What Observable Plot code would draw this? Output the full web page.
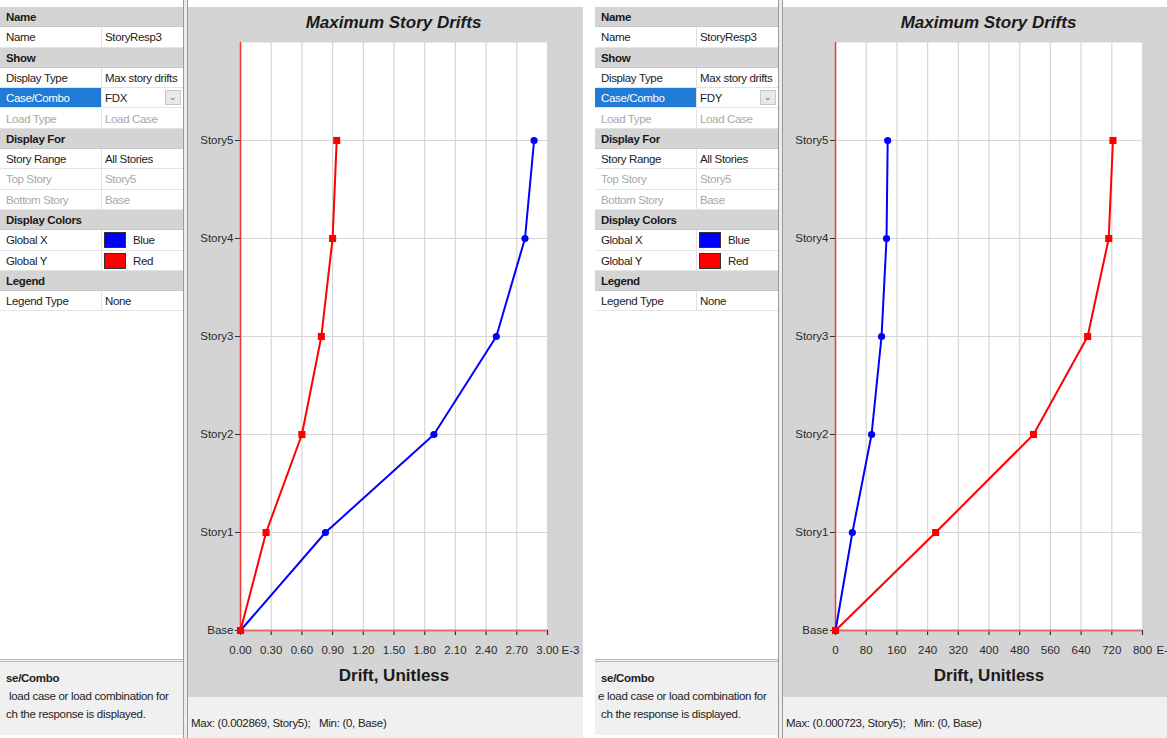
<!DOCTYPE html>
<html>
<head>
<meta charset="utf-8">
<script src="https://cdn.jsdelivr.net/npm/d3@7"></script>
<script src="https://cdn.jsdelivr.net/npm/@observablehq/plot@0.6"></script>
<style>
  html, body { margin: 0; padding: 0; background: #fff; }
  #root { position: relative; width: 1167px; height: 738px; overflow: hidden; background: #fff;
          font-family: "Liberation Sans", Arial, sans-serif; color: #222; }
  .shot { position: absolute; top: 0; width: 585px; height: 738px; }
  .tbl { position: absolute; left: 0; top: 7px; width: 183px; height: 651px; background: #fff; }
  .row { position: absolute; left: 0; width: 183px; height: 20.3px; box-sizing: border-box;
         border-bottom: 1px solid #e4e4e4; font-size: 11.5px; line-height: 20px; letter-spacing: -0.35px; }
  .row.h { background: #d4d4d4; font-weight: bold; color: #1a1a1a; border-bottom: 1px solid #c8c8c8; }
  .row .c1 { position: absolute; left: 6px; top: 0; }
  .row .c2 { position: absolute; left: 105px; top: 0; }
  .row .sep { position: absolute; left: 101px; top: 0; width: 1px; height: 100%; background: #e0e0e0; }
  .row.dim { color: #a8a8a8; }
  .row .sel { position: absolute; left: 0; top: 0; width: 101px; height: 100%; background: #1f7bd6; }
  .row .sel span { position: absolute; left: 6px; color: #fff; }
  .dd { position: absolute; left: 165px; top: 2px; width: 16px; height: 15px; background: #e8e8e8;
        border: 1px solid #c8c8c8; box-sizing: border-box; font-size: 9px; line-height: 13px; text-align: center; color: #666; }
  .sw { position: absolute; left: 104px; top: 2px; width: 22px; height: 16px; box-sizing: border-box; border: 1px solid #333; }
  .divv { position: absolute; left: 183px; top: 0; width: 5px; height: 738px; box-sizing: border-box;
          border-left: 1px solid #9a9a9a; border-right: 1px solid #9a9a9a; background: #ececec; }
  .help { position: absolute; left: 0; top: 659px; width: 183px; height: 76px; background: #f0f0f0;
          border-top: 3px double #b8b8b8; box-sizing: border-box; font-size: 11.5px; letter-spacing: -0.3px; }
  .help div { position: absolute; white-space: nowrap; }
  .panel { position: absolute; left: 188px; top: 7px; width: 395px; height: 690px; background: #d4d4d4; }
  .title { position: absolute; left: 52px; width: 307px; top: 6px; text-align: center; font-size: 17px;
           font-weight: bold; font-style: italic; color: #1a1a1a; }
  .foot { position: absolute; left: 188px; top: 697px; width: 395px; height: 41px; background: #f0f0f0;
          font-size: 11.5px; letter-spacing: -0.3px; }
  .foot span { position: absolute; left: 3px; top: 20px; }
</style>
</head>
<body>
<div id="root"></div>
<script>
// ---------- data ----------
const stories = ["Base", "Story1", "Story2", "Story3", "Story4", "Story5"];
const storyIndex = [0, 1, 2, 3, 4, 5];

// Load case FDX, drift x 1e-3
const fdxGlobalX = [0, 0.83, 1.89, 2.50, 2.78, 2.869];
const fdxGlobalY = [0, 0.25, 0.60, 0.79, 0.90, 0.94];
const fdxTicks = [0, 0.3, 0.6, 0.9, 1.2, 1.5, 1.8, 2.1, 2.4, 2.7, 3.0];

// Load case FDY, drift x 1e-6
const fdyGlobalX = [0, 44, 94, 120, 133, 136];
const fdyGlobalY = [0, 261, 516, 657, 712, 723];
const fdyTicks = [0, 80, 160, 240, 320, 400, 480, 560, 640, 720, 800];

const shots = [
  {left: 0, caseName: "FDX", blue: fdxGlobalX, red: fdxGlobalY, ticks: fdxTicks, fmt: d3.format(".2f"),
   unit: "E-3", footer: "Max: (0.002869, Story5);   Min: (0, Base)"},
  {left: 595, caseName: "FDY", blue: fdyGlobalX, red: fdyGlobalY, ticks: fdyTicks, fmt: d3.format("d"),
   unit: "E-6", footer: "Max: (0.000723, Story5);   Min: (0, Base)"}
];

const xLabel = "Drift, Unitless";
const chartTitle = "Maximum Story Drifts";

// ---------- property table ----------
function propRows(caseName) {
  return [
    ["h", "Name"], ["r", "Name", "StoryResp3"], ["h", "Show"], ["r", "Display Type", "Max story drifts"],
    ["sel", "Case/Combo", caseName], ["dim", "Load Type", "Load Case"], ["h", "Display For"],
    ["r", "Story Range", "All Stories"], ["dim", "Top Story", "Story5"], ["dim", "Bottom Story", "Base"],
    ["h", "Display Colors"], ["color", "Global X", "Blue", "#0000ff"], ["color", "Global Y", "Red", "#ff0000"],
    ["h", "Legend"], ["r", "Legend Type", "None"]
  ];
}

function makeChart(s) {
  const blueData = s.blue.map((v, i) => ({x: v, y: storyIndex[i]}));
  const redData = s.red.map((v, i) => ({x: v, y: storyIndex[i]}));
  const xmax = s.ticks[s.ticks.length - 1];
  return Plot.plot({
    width: 395, height: 690,
    marginTop: 35, marginBottom: 67, marginLeft: 52, marginRight: 36,
    style: {background: "transparent", fontFamily: "'Liberation Sans', Arial, sans-serif", fontSize: "11px", color: "#2a2a2a", overflow: "visible"},
    x: {domain: [0, xmax]},
    y: {domain: [0, 6]},
    marks: [
      Plot.frame({fill: "white", stroke: "none"}),
      Plot.gridX({ticks: s.ticks, stroke: "#d6d6d6", strokeOpacity: 1, strokeWidth: 1.2}),
      Plot.gridY({ticks: storyIndex, stroke: "#d6d6d6", strokeOpacity: 1, strokeWidth: 1.2}),
      Plot.axisX({ticks: s.ticks, tickFormat: s.fmt, tickSize: 5, tickPadding: 10, label: null, stroke: "#333", strokeWidth: 1.2, fontSize: 11.5}),
      Plot.axisY({ticks: storyIndex, tickFormat: i => stories[i], tickSize: 5, tickPadding: 2, label: null, stroke: "#333", fontSize: 11.5}),
      Plot.ruleY([0], {stroke: "#e36a6a", strokeWidth: 2}),
      Plot.ruleX([0], {stroke: "#f03535", strokeWidth: 1.5}),
      Plot.line(blueData, {x: "x", y: "y", stroke: "#0000ff", strokeWidth: 2}),
      Plot.dot(blueData, {x: "x", y: "y", r: 3.6, fill: "#0000ff"}),
      Plot.line(redData, {x: "x", y: "y", stroke: "#ff0000", strokeWidth: 2}),
      Plot.dot(redData, {x: "x", y: "y", r: 4, symbol: "square", fill: "#ff0000"}),
      Plot.text([s.unit], {x: xmax, y: 0, dx: 14, dy: 15, textAnchor: "start", lineAnchor: "top", fill: "#2a2a2a", fontSize: 11.5}),
      Plot.text([xLabel], {frameAnchor: "bottom", dy: 50, fontSize: 17, fontWeight: "bold", fill: "#1a1a1a"})
    ]
  });
}

const root = document.getElementById("root");
for (const s of shots) {
  const shot = document.createElement("div");
  shot.className = "shot";
  shot.style.left = s.left + "px";

  const tbl = document.createElement("div");
  tbl.className = "tbl";
  propRows(s.caseName).forEach((r, i) => {
    const row = document.createElement("div");
    row.style.top = (i * 20.3) + "px";
    const kind = r[0];
    if (kind === "h") {
      row.className = "row h";
      row.innerHTML = `<span class="c1">${r[1]}</span>`;
    } else {
      row.className = "row" + (kind === "dim" ? " dim" : "");
      let html = `<span class="sep"></span>`;
      if (kind === "sel") html += `<span class="sel"><span>${r[1]}</span></span><span class="c2">${r[2]}</span><span class="dd">&#8964;</span>`;
      else if (kind === "color") html += `<span class="c1">${r[1]}</span><span class="sw" style="background:${r[3]}"></span><span class="c2" style="left:133px">${r[2]}</span>`;
      else html += `<span class="c1">${r[1]}</span><span class="c2">${r[2]}</span>`;
      row.innerHTML = html;
    }
    tbl.appendChild(row);
  });
  shot.appendChild(tbl);

  const help = document.createElement("div");
  help.className = "help";
  help.innerHTML = `<div style="left:6px;top:10px;font-weight:bold">se/Combo</div>
    <div style="left:${s.left ? 3 : 9}px;top:28px">${s.left ? "e " : ""}load case or load combination for</div>
    <div style="left:6px;top:46px">ch the response is displayed.</div>`;
  shot.appendChild(help);

  const dv = document.createElement("div");
  dv.className = "divv";
  shot.appendChild(dv);

  const panel = document.createElement("div");
  panel.className = "panel";
  panel.appendChild(makeChart(s));
  const t = document.createElement("div");
  t.className = "title";
  t.textContent = chartTitle;
  panel.appendChild(t);
  shot.appendChild(panel);

  const foot = document.createElement("div");
  foot.className = "foot";
  foot.innerHTML = `<span>${s.footer.replace(/ {3}/g, "&nbsp;&nbsp;&nbsp;")}</span>`;
  shot.appendChild(foot);

  root.appendChild(shot);
}
</script>
</body>
</html>
